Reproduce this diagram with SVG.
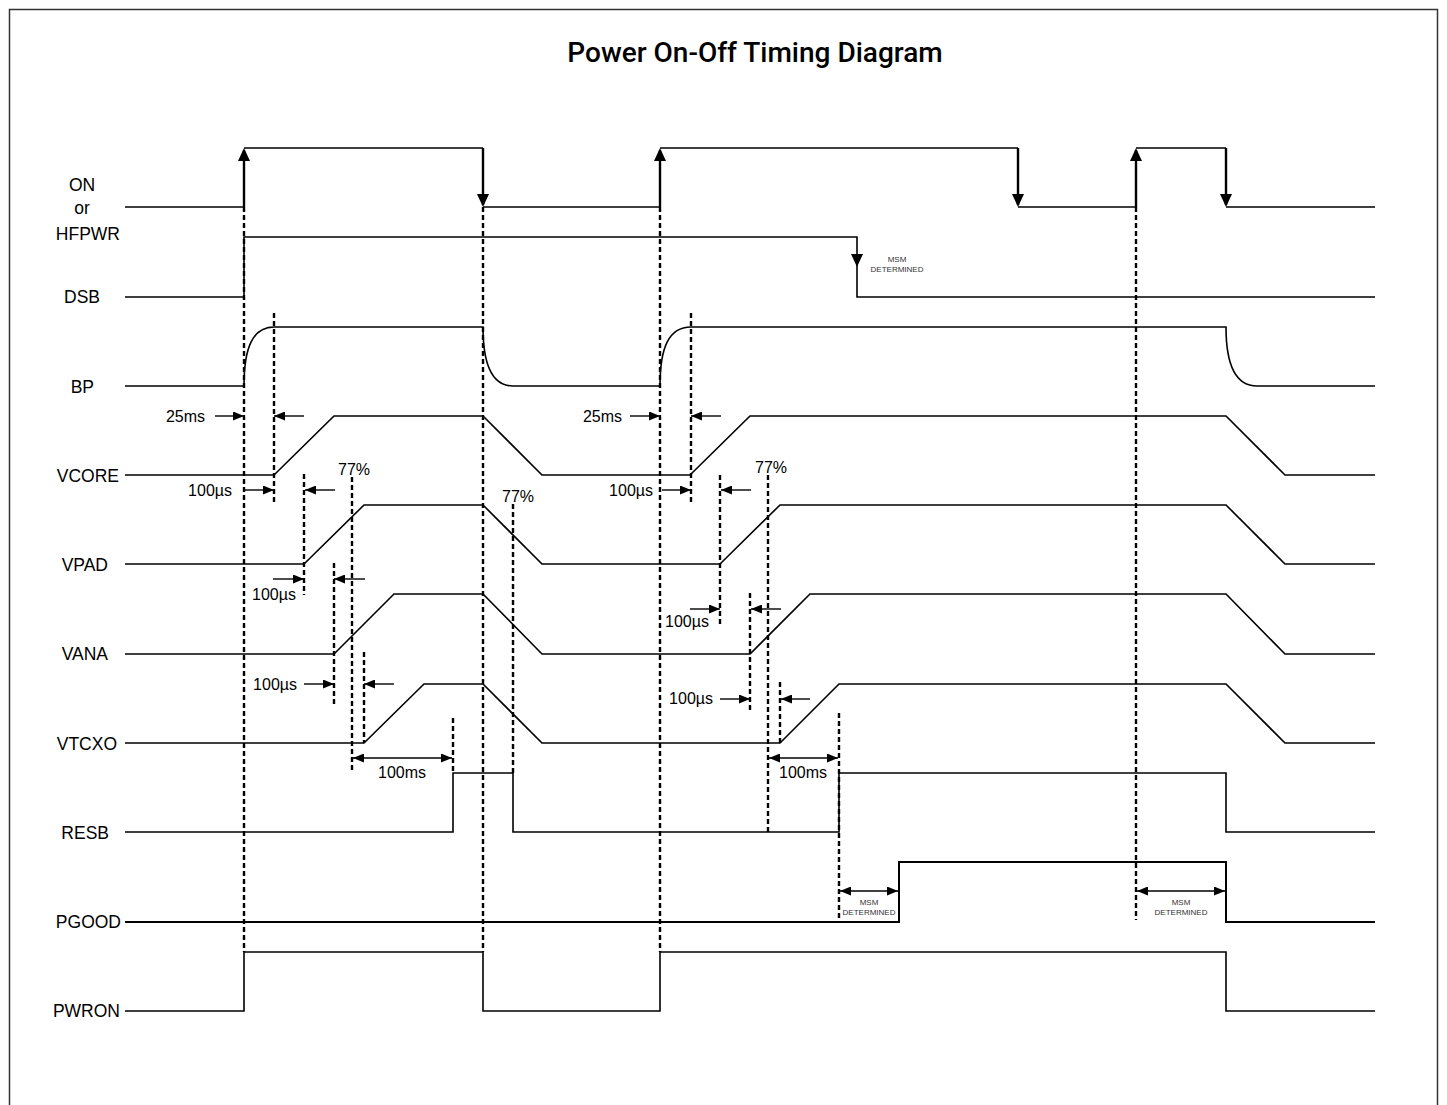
<svg xmlns="http://www.w3.org/2000/svg" width="1447" height="1105" viewBox="0 0 1447 1105">
<style>
.sig{fill:none;stroke:#000;stroke-width:1.6;stroke-linejoin:miter}
.vert{stroke:#000;stroke-width:2.4}
.dash{fill:none;stroke:#000;stroke-width:2.4;stroke-dasharray:5 3}
.dim{stroke:#000;stroke-width:1.4;fill:none}
.lbl{font-family:"Liberation Sans",Arial,sans-serif;font-size:17.5px;fill:#000}
.dt{font-family:"Liberation Sans",Arial,sans-serif;font-size:16px;fill:#000}
.sm{font-family:"Liberation Sans",Arial,sans-serif;font-size:8px;fill:#333;text-anchor:middle}
.title{font-family:Roboto,"Liberation Sans",sans-serif;font-weight:500;font-size:28px;fill:#000;text-anchor:middle}
</style>
<defs>
<marker id="ah" viewBox="0 0 11 9" refX="11" refY="4.5" markerWidth="11" markerHeight="9" orient="auto-start-reverse" markerUnits="userSpaceOnUse"><path d="M0,0 L11,4.5 L0,9 z" fill="#000"/></marker>
</defs>
<rect x="9.5" y="9.5" width="1428" height="1130" fill="#fff" stroke="#333" stroke-width="1.5"/>
<text class="title" x="755" y="62">Power On-Off Timing Diagram</text>

<g id="labels">
<text class="lbl" x="82" y="191" text-anchor="middle">ON</text>
<text class="lbl" x="82" y="214" text-anchor="middle">or</text>
<text class="lbl" x="120" y="240" text-anchor="end">HFPWR</text>
<text class="lbl" x="100" y="303" text-anchor="end">DSB</text>
<text class="lbl" x="94" y="393" text-anchor="end">BP</text>
<text class="lbl" x="119" y="482" text-anchor="end">VCORE</text>
<text class="lbl" x="108" y="571" text-anchor="end">VPAD</text>
<text class="lbl" x="108" y="660" text-anchor="end">VANA</text>
<text class="lbl" x="117" y="750" text-anchor="end">VTCXO</text>
<text class="lbl" x="109" y="839" text-anchor="end">RESB</text>
<text class="lbl" x="121" y="928" text-anchor="end">PGOOD</text>
<text class="lbl" x="120" y="1017" text-anchor="end">PWRON</text>
</g>

<g id="guides">
<line class="dash" x1="244" y1="207" x2="244" y2="952"/>
<line class="dash" x1="483" y1="207" x2="483" y2="952"/>
<line class="dash" x1="660" y1="207" x2="660" y2="952"/>
<line class="dash" x1="1136" y1="207" x2="1136" y2="920"/>
<line class="dash" x1="274" y1="313" x2="274" y2="502"/>
<line class="dash" x1="691" y1="313" x2="691" y2="502"/>
<line class="dash" x1="304" y1="474" x2="304" y2="595"/>
<line class="dash" x1="720" y1="475" x2="720" y2="625"/>
<line class="dash" x1="334" y1="563" x2="334" y2="705"/>
<line class="dash" x1="750" y1="593" x2="750" y2="713"/>
<line class="dash" x1="364" y1="652" x2="364" y2="743"/>
<line class="dash" x1="780" y1="682" x2="780" y2="743"/>
<line class="dash" x1="352" y1="477" x2="352" y2="773"/>
<line class="dash" x1="768" y1="475" x2="768" y2="833"/>
<line class="dash" x1="513" y1="504" x2="513" y2="773"/>
<line class="dash" x1="453" y1="718" x2="453" y2="773"/>
<line class="dash" x1="839" y1="713" x2="839" y2="920"/>
</g>

<g id="sig-on">
<path class="sig" d="M125,207 H244 M244,148 H483 M483,207 H660 M660,148 H1018 M1018,207 H1136 M1136,148 H1226 M1226,207 H1375"/>
<path class="vert" d="M244,207 V150 M483,148 V205 M660,207 V150 M1018,148 V205 M1136,207 V150 M1226,148 V205"/>
<polygon points="238,161 250,161 244,148"/>
<polygon points="477,194 489,194 483,207"/>
<polygon points="654,161 666,161 660,148"/>
<polygon points="1012,194 1024,194 1018,207"/>
<polygon points="1130,161 1142,161 1136,148"/>
<polygon points="1220,194 1232,194 1226,207"/>
</g>

<g id="sig-dsb">
<path class="sig" d="M125,297 H244 V237 H857 V297 H1375"/>
<polygon points="851,254 863,254 857,267"/>
<text class="sm" x="897" y="262">MSM</text>
<text class="sm" x="897" y="272">DETERMINED</text>
</g>

<g id="sig-bp">
<path class="sig" d="M125,386 H244 C244,347 253,327 274,327 H483 C483,365 493,386 513,386 H660 C660,347 669,327 691,327 H1226 C1226,365 1236,386 1257,386 H1375"/>
</g>

<g id="sig-vcore">
<path class="sig" d="M125,475 H274 L334,416 H483 L542,475 H690 L750,416 H1226 L1285,475 H1375"/>
</g>
<g id="sig-vpad">
<path class="sig" d="M125,564 H304 L364,505 H483 L542,564 H720 L780,505 H1226 L1285,564 H1375"/>
</g>
<g id="sig-vana">
<path class="sig" d="M125,654 H334 L394,594 H483 L542,654 H750 L810,594 H1226 L1285,654 H1375"/>
</g>
<g id="sig-vtcxo">
<path class="sig" d="M125,743 H364 L424,684 H483 L542,743 H780 L839,684 H1226 L1285,743 H1375"/>
</g>
<g id="sig-resb">
<path class="sig" d="M125,832 H453 V773 H513 V832 H839 V773 H1226 V832 H1375"/>
</g>
<g id="sig-pgood">
<path class="sig" style="stroke-width:2" d="M125,922 H899 V862 H1226 V922 H1375"/>
</g>
<g id="sig-pwron">
<path class="sig" d="M125,1011 H244 V952 H483 V1011 H660 V952 H1226 V1011 H1375"/>
</g>

<g id="connectors">
<text class="dt" x="205" y="422" text-anchor="end">25ms</text>
<line class="dim" x1="215" y1="416" x2="244" y2="416" marker-end="url(#ah)"/>
<line class="dim" x1="304" y1="416" x2="274" y2="416" marker-end="url(#ah)"/>
<text class="dt" x="622" y="422" text-anchor="end">25ms</text>
<line class="dim" x1="630" y1="416" x2="660" y2="416" marker-end="url(#ah)"/>
<line class="dim" x1="721" y1="416" x2="691" y2="416" marker-end="url(#ah)"/>

<text class="dt" x="232" y="496" text-anchor="end">100µs</text>
<line class="dim" x1="245" y1="490" x2="274" y2="490" marker-end="url(#ah)"/>
<line class="dim" x1="335" y1="490" x2="305" y2="490" marker-end="url(#ah)"/>
<text class="dt" x="653" y="496" text-anchor="end">100µs</text>
<line class="dim" x1="662" y1="490" x2="691" y2="490" marker-end="url(#ah)"/>
<line class="dim" x1="751" y1="490" x2="721" y2="490" marker-end="url(#ah)"/>

<text class="dt" x="252" y="600">100µs</text>
<line class="dim" x1="273" y1="579" x2="304" y2="579" marker-end="url(#ah)"/>
<line class="dim" x1="365" y1="579" x2="334" y2="579" marker-end="url(#ah)"/>
<text class="dt" x="665" y="627">100µs</text>
<line class="dim" x1="690" y1="609" x2="720" y2="609" marker-end="url(#ah)"/>
<line class="dim" x1="781" y1="609" x2="751" y2="609" marker-end="url(#ah)"/>

<text class="dt" x="297" y="690" text-anchor="end">100µs</text>
<line class="dim" x1="304" y1="684" x2="334" y2="684" marker-end="url(#ah)"/>
<line class="dim" x1="394" y1="684" x2="364" y2="684" marker-end="url(#ah)"/>
<text class="dt" x="713" y="704" text-anchor="end">100µs</text>
<line class="dim" x1="720" y1="699" x2="750" y2="699" marker-end="url(#ah)"/>
<line class="dim" x1="810" y1="699" x2="781" y2="699" marker-end="url(#ah)"/>

<text class="dt" x="354" y="475" text-anchor="middle">77%</text>
<text class="dt" x="771" y="473" text-anchor="middle">77%</text>
<text class="dt" x="518" y="502" text-anchor="middle">77%</text>

<line class="dim" x1="353" y1="758" x2="452" y2="758" marker-start="url(#ah)" marker-end="url(#ah)"/>
<text class="dt" x="402" y="778" text-anchor="middle">100ms</text>
<line class="dim" x1="769" y1="758" x2="838" y2="758" marker-start="url(#ah)" marker-end="url(#ah)"/>
<text class="dt" x="803" y="778" text-anchor="middle">100ms</text>

<line class="dim" x1="840" y1="891" x2="898" y2="891" marker-start="url(#ah)" marker-end="url(#ah)"/>
<text class="sm" x="869" y="905">MSM</text>
<text class="sm" x="869" y="915">DETERMINED</text>
<line class="dim" x1="1137" y1="891" x2="1225" y2="891" marker-start="url(#ah)" marker-end="url(#ah)"/>
<text class="sm" x="1181" y="905">MSM</text>
<text class="sm" x="1181" y="915">DETERMINED</text>
</g>
</svg>
